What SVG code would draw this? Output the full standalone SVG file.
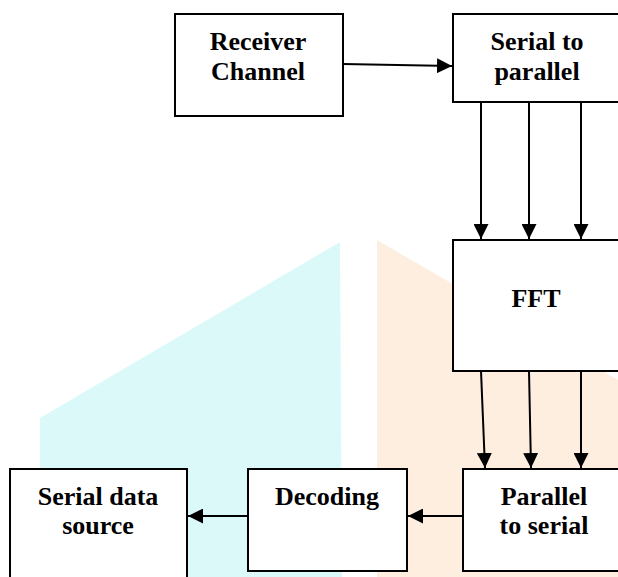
<svg xmlns="http://www.w3.org/2000/svg" width="618" height="577" viewBox="0 0 618 577">
<style>
.box{fill:#fff;stroke:#000;stroke-width:2}
.lbl{font-family:"Liberation Serif","Times New Roman",serif;font-weight:bold;font-size:26px;fill:#000;text-anchor:middle}
.wire{stroke:#000;stroke-width:2;fill:none;marker-end:url(#ah)}
</style>
<defs>
<marker id="ah" viewBox="0 0 15 15" refX="15" refY="7.5" markerWidth="15" markerHeight="15" markerUnits="userSpaceOnUse" orient="auto">
<path d="M0,0 L15,7.5 L0,15 Z" fill="#000"/>
</marker>
</defs>
<rect width="618" height="577" fill="#fff"/>
<g id="watermark">
<polygon points="40,418 340,242 342,577 40,577" fill="#dcf9fa"/>
<polygon points="377,240 618,380 618,577 377,577" fill="#fdeee0"/>
</g>
<g id="connectors">
<line class="wire" x1="343" y1="64" x2="452" y2="66"/>
<line class="wire" x1="481" y1="102" x2="481" y2="239"/>
<line class="wire" x1="529" y1="102" x2="529" y2="239"/>
<line class="wire" x1="581" y1="102" x2="581" y2="239"/>
<line class="wire" x1="481" y1="371" x2="485" y2="468"/>
<line class="wire" x1="529" y1="371" x2="531" y2="468"/>
<line class="wire" x1="581" y1="371" x2="581" y2="468"/>
<line class="wire" x1="462" y1="516" x2="408" y2="516"/>
<line class="wire" x1="248" y1="516" x2="188" y2="516"/>
</g>
<g id="receiver">
<rect class="box" x="175" y="14" width="168" height="102"/>
<text class="lbl" x="258" y="50">Receiver</text>
<text class="lbl" x="258" y="80">Channel</text>
</g>
<g id="s2p">
<rect class="box" x="453" y="14" width="170" height="88"/>
<text class="lbl" x="537" y="50">Serial to</text>
<text class="lbl" x="537" y="80">parallel</text>
</g>
<g id="fft">
<rect class="box" x="453" y="240" width="170" height="131"/>
<text class="lbl" x="536" y="307">FFT</text>
</g>
<g id="p2s">
<rect class="box" x="463" y="469" width="160" height="102"/>
<text class="lbl" x="544" y="505">Parallel</text>
<text class="lbl" x="544" y="534">to serial</text>
</g>
<g id="decoding">
<rect class="box" x="248" y="469" width="159" height="102"/>
<text class="lbl" x="327" y="505">Decoding</text>
</g>
<g id="sink">
<rect class="box" x="10" y="469" width="177" height="115"/>
<text class="lbl" x="98" y="505">Serial data</text>
<text class="lbl" x="98" y="534">source</text>
</g>
</svg>
